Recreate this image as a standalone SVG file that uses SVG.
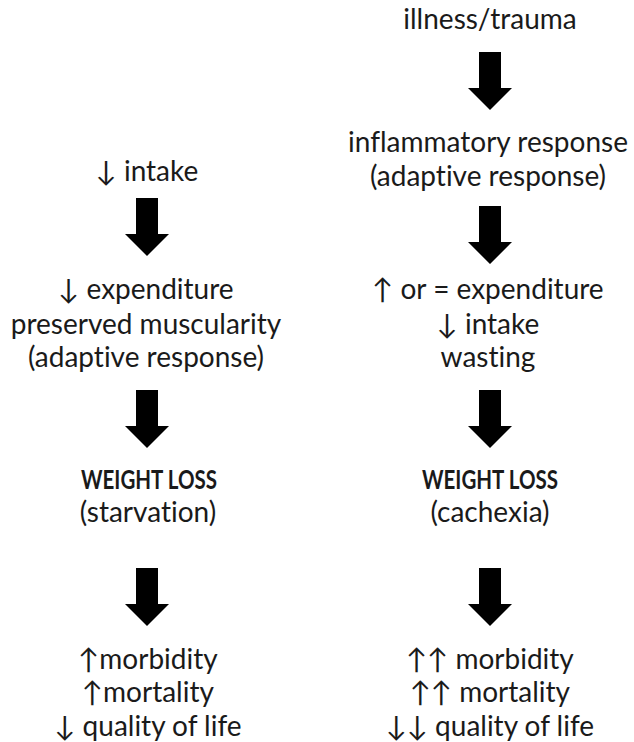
<svg xmlns="http://www.w3.org/2000/svg" width="634" height="742" viewBox="0 0 634 742">
<style>
text{font-family:Lato,"Open Sans","DejaVu Sans",sans-serif;font-size:28px;fill:#1a1a1a;text-anchor:middle;font-variant-ligatures:none;font-feature-settings:"liga" 0,"clig" 0}
.b{font-weight:bold;font-size:27px}
.arr{fill:#000}
</style>
<defs>
<path id="arrow" d="M-11,0 H11 V36 H22 L0,58 L-22,36 H-11 Z"/>
</defs>
<rect width="634" height="742" fill="#fff"/>
<g id="connectors" class="arr">
<use href="#arrow" x="490" y="52"/>
<use href="#arrow" x="147" y="198"/>
<use href="#arrow" x="490" y="206"/>
<use href="#arrow" x="147" y="390"/>
<use href="#arrow" x="490" y="390"/>
<use href="#arrow" x="147" y="568"/>
<use href="#arrow" x="490" y="568"/>
</g>
<g id="illness"><text x="490" y="29">illness/trauma</text></g>
<g id="inflammatory"><text x="488" y="152">inflammatory response</text><text x="488" y="186">(adaptive response)</text></g>
<g id="intake-left"><text x="147" y="181">↓ intake</text></g>
<g id="starvation-response"><text x="146" y="299">↓ expenditure</text><text x="146" y="334">preserved muscularity</text><text x="146" y="367">(adaptive response)</text></g>
<g id="cachexia-response"><text x="488" y="299">↑ or = expenditure</text><text x="488" y="334">↓ intake</text><text x="488" y="367">wasting</text></g>
<g id="weightloss-left"><text class="b" x="149" y="489" textLength="136" lengthAdjust="spacingAndGlyphs">WEIGHT LOSS</text><text x="148" y="522">(starvation)</text></g>
<g id="weightloss-right"><text class="b" x="490" y="489" textLength="136" lengthAdjust="spacingAndGlyphs">WEIGHT LOSS</text><text x="490" y="522">(cachexia)</text></g>
<g id="outcome-left"><text x="148" y="669">↑morbidity</text><text x="148" y="702">↑mortality</text><text x="148" y="736">↓ quality of life</text></g>
<g id="outcome-right"><text x="490" y="669">↑↑ morbidity</text><text x="490" y="702">↑↑ mortality</text><text x="490" y="736">↓↓ quality of life</text></g>
</svg>
